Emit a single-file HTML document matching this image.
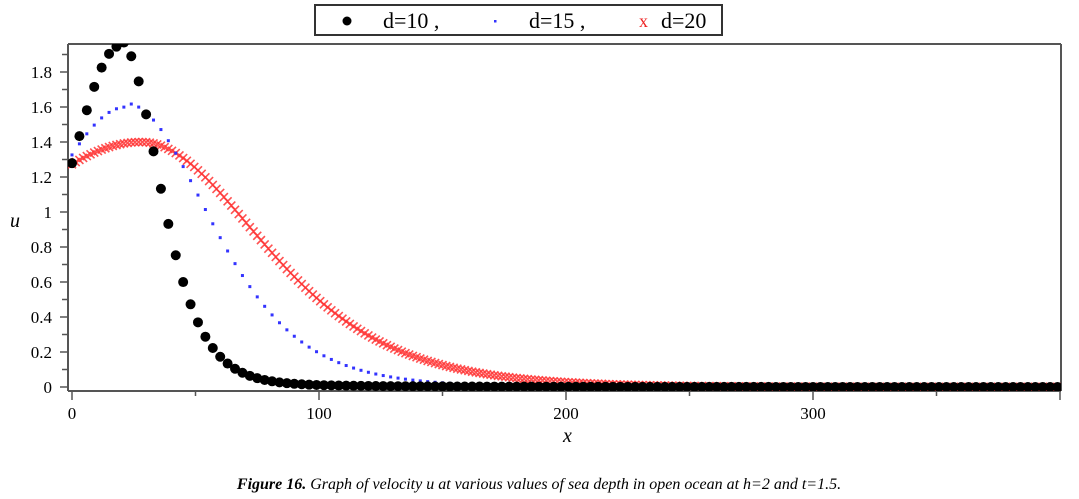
<!DOCTYPE html><html><head><style>body{margin:0;background:#fff}svg{display:block;font-family:"Liberation Serif",serif}</style></head><body>
<svg id="s" width="1079" height="499" xmlns="http://www.w3.org/2000/svg">
<rect width="1079" height="499" fill="#fff"/>
<g stroke="#555" stroke-width="2" fill="none">
<line x1="68" y1="44" x2="1061" y2="44"/><line x1="68" y1="44" x2="68" y2="391"/><line x1="68" y1="391" x2="1061" y2="391"/><line x1="1061" y1="44" x2="1061" y2="391"/>
</g>
<g id="ticks" stroke="#555" stroke-width="1.5"></g>
<g font-size="17" text-anchor="end" fill="#000" id="yl"></g>
<g font-size="17" text-anchor="middle" fill="#000">
<text x="72" y="419">0</text><text x="319" y="419">100</text><text x="566" y="419">200</text><text x="813" y="419">300</text></g>
<text x="10" y="227" font-size="20" font-style="italic">u</text>
<text x="563" y="442" font-size="20" font-style="italic">x</text>
<svg x="68" y="44" width="993" height="347" overflow="hidden"><g id="pts" transform="translate(-68,-44)"></g></svg>
<rect x="315" y="5" width="407" height="30" fill="#fff" stroke="#333" stroke-width="2"/>
<circle cx="347" cy="21" r="4.5" fill="#000"/>
<text x="383" y="28" font-size="22">d=10 ,</text>
<rect x="494" y="20" width="2.5" height="2.5" fill="#33f"/>
<text x="529" y="28" font-size="22">d=15 ,</text>
<text x="639" y="27" font-size="18" fill="#e22">x</text>
<text x="661" y="28" font-size="22">d=20</text>
<text x="539" y="489" font-size="16" font-style="italic" text-anchor="middle"><tspan font-weight="bold">Figure 16.</tspan> Graph of velocity u at various values of sea depth in open ocean at h=2 and t=1.5.</text>
</svg>
<script>
var NS="http://www.w3.org/2000/svg";function el(p,t,a){var e=document.createElementNS(NS,t);for(var k in a)e.setAttribute(k,a[k]);p.appendChild(e);return e}
var X=function(x){return 72+x*2.47},Y=function(u){return 387-u*175};
var tk=document.getElementById('ticks'),yl=document.getElementById('yl');
for(var i=0;i<=19;i++){var y=Y(i/10);el(tk,'line',{x1:i%2?62:60,y1:y,x2:68,y2:y});if(i%2==0){var t=el(yl,'text',{x:52,y:y+6});t.textContent=i==0?'0':(i==10?'1':(i/10).toString())}}
for(var i=0;i<=8;i++){var x=X(i*50);el(tk,'line',{x1:x,y1:391,x2:x,y2:i%2?396:400})}
function sech2(z){var c=Math.cosh(z);return 1/(c*c)}
function f(x,A,x0,wl,wr,tail){var w=x<x0?wl:wr;return A*sech2((x-x0)/w)+tail*Math.exp(-x/60)*(x>x0?1:0)}
var g=document.getElementById('pts');
for(var x=0;x<=400;x+=1.5){var u=f(x,1.40,28,90,65,0);var cx=X(x),cy=Y(u);el(g,'path',{d:'M'+(cx-4)+' '+(cy-4)+'L'+(cx+4)+' '+(cy+4)+'M'+(cx-4)+' '+(cy+4)+'L'+(cx+4)+' '+(cy-4),stroke:'#f33','stroke-width':1.6,'stroke-opacity':0.85})}
for(var x=0;x<=400;x+=3){var u=f(x,1.6,22,50,45,0.03);el(g,'rect',{x:X(x)-1.5,y:Y(u)-1.5,width:3,height:3,fill:'#33f'})}
for(var x=0;x<=400;x+=3){var u=f(x,1.95,19.5,29,21,0.04);el(g,'circle',{cx:X(x),cy:Y(u),r:5,fill:'#000'})}
</script>
</body></html>
